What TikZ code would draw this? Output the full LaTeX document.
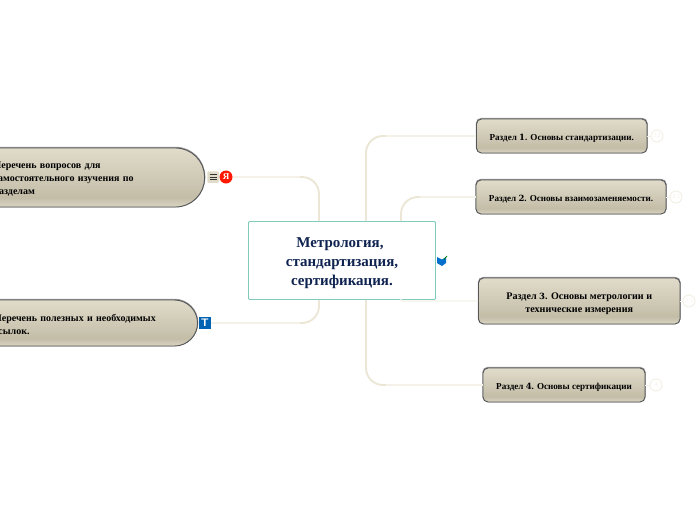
\documentclass[tikz,border=0pt]{standalone}
\usepackage{fontspec}
\setmainfont{Liberation Serif}
\newfontfamily\digitfont{DejaVu Serif}
\usepackage{tikz}
\usetikzlibrary{calc, positioning}
\definecolor{stemcol}{HTML}{EBE6D5}
\definecolor{twigcol}{HTML}{F3F1E8}
\definecolor{bubblecol}{HTML}{F1EFE3}
\definecolor{rootline}{HTML}{7FCBBB}
\definecolor{rootink}{HTML}{0F2350}
\definecolor{barline}{HTML}{55565A}
\definecolor{sandtop}{HTML}{E1DCCA}
\definecolor{sandlow}{HTML}{C3BDA8}
\definecolor{sandend}{HTML}{DAD5C2}
\pgfdeclareverticalshading{sandbar}{100bp}{
	color(0bp)=(sandend);
	color(25bp)=(sandend);
	color(33bp)=(sandlow);
	color(75bp)=(sandtop);
	color(100bp)=(sandtop)
}
\newcommand{\secnum}[1]{{\digitfont\bfseries\fontsize{8.5}{11}\selectfont #1}}
\tikzset{
	sectionbox/.style={draw=barline, line width=0.9, rounded corners=5, shading=sandbar, align=center, font=\bfseries\fontsize{9.1}{11}\selectfont, text=black, inner sep=0pt, text height=10.2pt, preaction={draw=gray!80, line width=1.5, transform canvas={yshift=0.5}}},
	topicbar/.style={sectionbox, align=left, font=\bfseries\fontsize{10}{13}\selectfont, inner xsep=25, anchor=east},
	stemline/.style={stemcol, line width=1.9, rounded corners=17},
	twigline/.style={twigcol, line width=1.1},
	bubble/.style={circle, draw=bubblecol, line width=0.9, minimum size=12, inner sep=0pt, text=bubblecol, font=\fontsize{6}{6}\selectfont}
}
\begin{document}
\begin{tikzpicture}[x=1pt, y=-1pt]
		\useasboundingbox (0,0) rectangle (697,520);

		% nodes - main topic and the sections %
		\node[draw=rootline, line width=0.9, rounded corners=1, minimum width=187, minimum height=78, align=center, text=rootink, text height=54pt, font=\bfseries\fontsize{15}{19}\selectfont] (root) at (342,260.5) {Метрология,\hspace*{4pt}\\стандартизация,\hspace*{4pt}\\сертификация.};
		\node[sectionbox, minimum width=170.5, minimum height=34] (sec1) at (561.75,136) {Раздел \secnum{1}. Основы стандартизации.};
		\node[sectionbox, minimum width=190, minimum height=34] (sec2) at (571,197) {Раздел \secnum{2}. Основы взаимозаменяемости.};
		\node[sectionbox, minimum width=201.5, minimum height=46, text height=25pt, font=\bfseries\fontsize{10.1}{13}\selectfont] (sec3) at (579.25,301) {Раздел \secnum{3}. Основы метрологии и\\технические измерения};
		\node[sectionbox, minimum width=162, minimum height=34] (sec4) at (564,385) {Раздел \secnum{4}. Основы сертификации};

		% nodes - the two bars cut by the left edge %
		\node[topicbar, rounded corners=29, minimum height=59, text width=186, text height=9.5pt] (quest) at (205,177.5) {Перечень вопросов для\\самостоятельного изучения по\\разделам};
		\node[topicbar, rounded corners=23, minimum height=46, text width=178.5, text height=9.5pt] (refs) at (198,323) {Перечень полезных и необходимых\\ссылок.};

		% nodes - icons %
		\node[fill=sandtop, rounded corners=1, minimum size=11.5, inner sep=0pt] (menuicon) at (213,177) {};
		\foreach \k in {-2.6,0,2.6}
			\draw[black!80, line width=1] ([xshift=-3.5,yshift=\k]menuicon.center) -- ([xshift=3.5,yshift=\k]menuicon.center);
		\node[circle, fill=red!80!orange, minimum size=13, inner sep=0pt, text=white, font=\bfseries\fontsize{9}{9}\selectfont] (yandex) at (226,177) {Я};
		\node[fill=blue!45!cyan!70!black, minimum size=11.5, inner sep=0pt, text=white, font=\sffamily\bfseries\fontsize{11}{11}\selectfont] (ticon) at (205,323) {T};
		\coordinate (book) at (442,261);
		\fill[blue!45!cyan!80!black] ($(book)+(-5,-4)$) -- ($(book)+(0,-1.5)$) -- ($(book)+(4,-4)$) -- ($(book)+(4,2)$) -- ($(book)+(0,5)$) -- ($(book)+(-5,2)$) -- cycle;
		\draw[green!50!black, line width=0.8] ($(book)+(2,-1.5)$) -- ($(book)+(5,-5)$);

		% nodes - small bubbles %
		\node[bubble] (b1) at (657,136) {2.2};
		\node[bubble] (b2) at (676,197) {3.3};
		\node[bubble] (b3) at (689,301) {2.5};
		\node[bubble] (b4) at (656,385) {4};

		% points where a stem turns into a twig %
		\coordinate (c1) at (386,136);
		\coordinate (c2) at (420,197);
		\coordinate (c4) at (386,385);
		\coordinate (cq) at (300,177);
		\coordinate (cr) at (300,323);

		% edges %
		\draw[stemline] ([xshift=24]root.north) |- (c1);
		\draw[twigline] (c1) -- (sec1.west);
		\draw[stemline] ([xshift=59]root.north) |- (c2);
		\draw[twigline] (c2) -- (sec2.west);
		\draw[twigline, rounded corners=1.5] ([xshift=59]root.south) |- (sec3.west);
		\draw[stemline] ([xshift=24]root.south) |- (c4);
		\draw[twigline] (c4) -- (sec4.west);
		\draw[stemline] ([xshift=-23]root.north) |- (cq);
		\draw[twigline] (cq) -- (yandex.east);
		\draw[stemline] ([xshift=-23]root.south) |- (cr);
		\draw[twigline] (cr) -- (ticon.east);
		\draw[twigcol, line width=1] (sec1.east) -- (b1);
		\draw[twigcol, line width=1] (sec2.east) -- (b2);
		\draw[twigcol, line width=1] (sec3.east) -- (b3);
		\draw[twigcol, line width=1] (sec4.east) -- (b4);

		\end{tikzpicture}
\end{document}
